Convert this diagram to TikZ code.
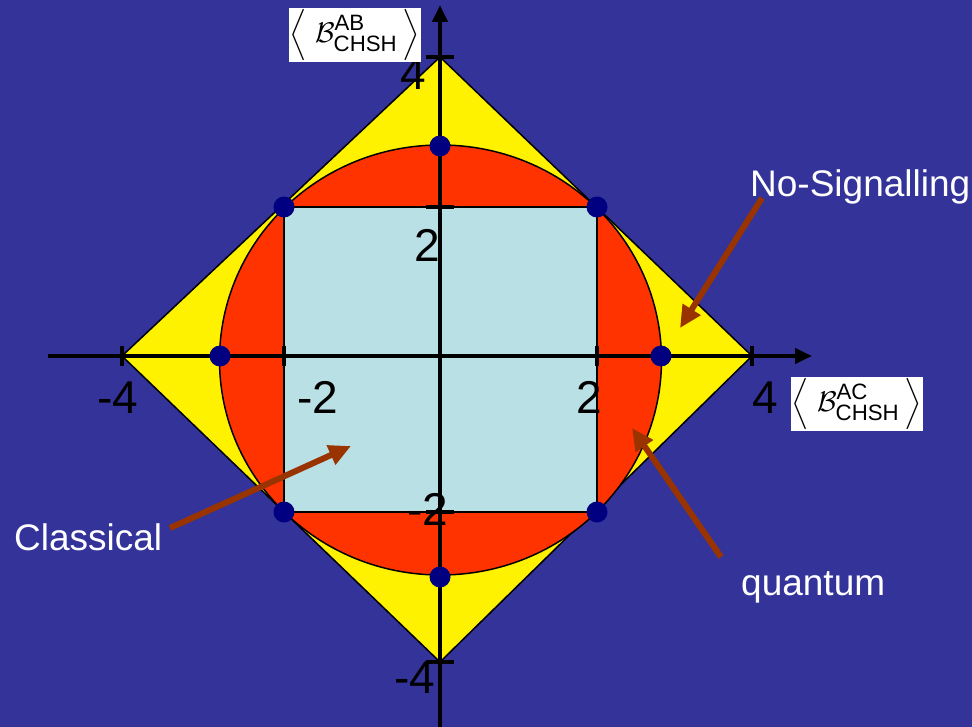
\documentclass[tikz,border=0pt]{standalone}
\usepackage{fontspec}
\setmainfont{Liberation Sans}
\setsansfont{Liberation Sans}
\usepackage{graphicx}
\usetikzlibrary{arrows.meta}
\definecolor{bgblue}{RGB}{51,51,153}
\definecolor{qred}{RGB}{255,51,0}
\definecolor{clblue}{RGB}{185,224,228}
\definecolor{dotnavy}{RGB}{0,0,128}
\definecolor{arrbrown}{RGB}{153,51,0}
\newcommand{\chshlabel}[1]{\scalebox{2.85}{$\Bigl\langle\;\mathcal{B}^{\raisebox{0.3pt}{\fontsize{7.8}{8}\selectfont #1}}_{\raisebox{-0.4pt}{\fontsize{7.8}{8}\selectfont CHSH}}\,\Bigr\rangle$}}
\begin{document}
\begin{tikzpicture}[x=1pt,y=-1pt,
  region/.style={draw=black,line width=1.5pt},
  axisline/.style={line width=4.5pt,-{Triangle[length=17pt,width=15pt]}},
  tickline/.style={line width=4pt},
  dotnode/.style={circle,fill=dotnavy,inner sep=0pt,minimum size=21pt},
  numlab/.style={font=\fontsize{46}{50}\selectfont,text=black,anchor=base,inner sep=0pt},
  wordlab/.style={font=\fontsize{37}{44}\selectfont,text=white,anchor=base west,inner sep=0pt},
  labbox/.style={fill=white,minimum width=132pt,minimum height=54pt,inner sep=0pt},
  brownarrow/.style={draw=arrbrown,line width=6pt,-{Triangle[length=22pt,width=20pt]}}]
\fill[bgblue] (0,0) rectangle (972,727);
\useasboundingbox (0,0) rectangle (972,727);
% regions
\filldraw[region,fill=yellow] (122,356) -- (440,57) -- (752,356) -- (440,662) -- cycle;
\filldraw[region,fill=qred] (440.5,360) ellipse [x radius=221, y radius=215];
\filldraw[region,fill=clblue] (284,207) rectangle (597,512);
% axes
\coordinate (xfrom) at (48,356);
\coordinate (xto) at (812,356);
\coordinate (yfrom) at (440,727);
\coordinate (yto) at (440,5);
\draw[axisline] (xfrom) -- (xto);
\draw[axisline] (yfrom) -- (yto);
% ticks
\foreach \t/\n in {122/xa,284/xb,597/xc,752/xd}{
  \coordinate (\n1) at (\t,346); \coordinate (\n2) at (\t,366);
  \draw[tickline] (\n1) -- (\n2);}
\foreach \t/\n in {57/ya,207/yb,512/yc,662/yd}{
  \coordinate (\n1) at (426,\t); \coordinate (\n2) at (454,\t);
  \draw[tickline] (\n1) -- (\n2);}
% tick labels
\node[numlab] (lxa) at (118,413) {-4};
\node[numlab] (lxb) at (318,413) {-2};
\node[numlab] (lxc) at (589,413) {2};
\node[numlab] (lxd) at (765,413) {4};
\node[numlab] (lya) at (413,90) {4};
\node[numlab] (lyb) at (427,262) {2};
\node[numlab] (lyc) at (428,525) {-2};
\node[numlab] (lyd) at (415,693) {-4};
% dots
\node[dotnode] (d1) at (440,146) {};
\node[dotnode] (d2) at (284,207) {};
\node[dotnode] (d3) at (597,207) {};
\node[dotnode] (d4) at (220,356) {};
\node[dotnode] (d5) at (661,356) {};
\node[dotnode] (d6) at (284,512) {};
\node[dotnode] (d7) at (597,512) {};
\node[dotnode] (d8) at (440,577) {};
% axis names
\node[labbox] (yname) at (355,35) {};
\node[inner sep=0pt] (ynametext) at (yname.center) {\chshlabel{AB}};
\node[labbox] (xname) at (857,404) {};
\node[inner sep=0pt] (xnametext) at (xname.center) {\chshlabel{AC}};
% region labels
\node[wordlab] (ns) at (750,197) {No-Signalling};
\node[wordlab] (qu) at (741,595) {quantum};
\node[wordlab] (cl) at (14,550) {Classical};
\coordinate (nsfrom) at (762,198);
\coordinate (nstip) at (680,328);
\coordinate (qufrom) at (721,557);
\coordinate (qutip) at (632,428);
\coordinate (clfrom) at (170,528);
\coordinate (cltip) at (351,446);
\draw[brownarrow] (nsfrom) -- (nstip);
\draw[brownarrow] (qufrom) -- (qutip);
\draw[brownarrow] (clfrom) -- (cltip);
\end{tikzpicture}
\end{document}
